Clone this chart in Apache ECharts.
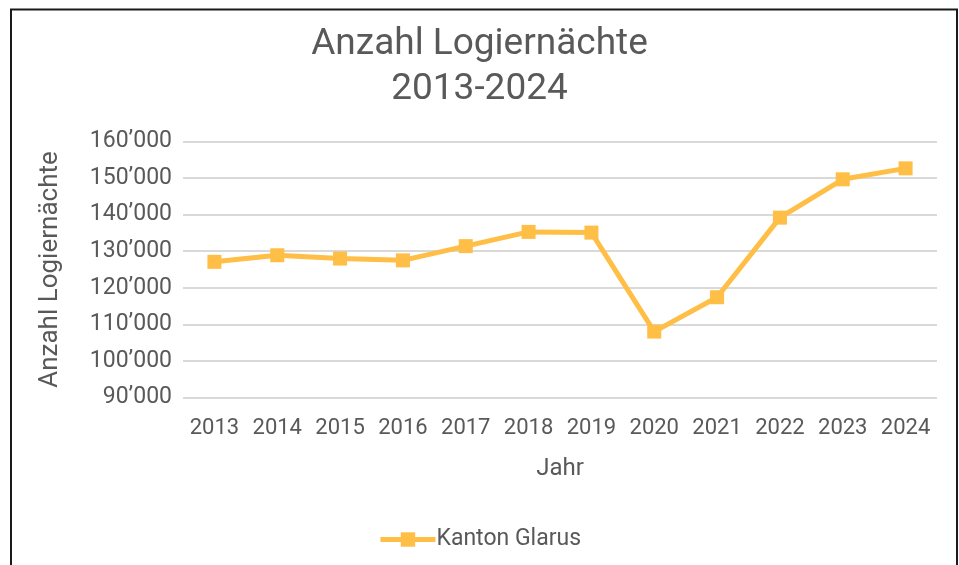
<!DOCTYPE html>
<html><head><meta charset="utf-8">
<script src="https://cdn.jsdelivr.net/npm/echarts@6/dist/echarts.min.js"></script>
<style>html,body{margin:0;padding:0;background:#fff}#c{width:959px;height:565px}</style>
</head><body><div id="c"></div>
<script>
const years = ['2013','2014','2015','2016','2017','2018','2019','2020','2021','2022','2023','2024'];
const glarus = [127100, 128900, 128000, 127500, 131400, 135300, 135100, 108000, 117400, 139200, 149700, 152700];
const seriesName = 'Kanton Glarus';
const titleText = 'Anzahl Logiernächte\n2013-2024';
const yName = 'Anzahl Logiernächte';
const xName = 'Jahr';

const chart = echarts.init(document.getElementById('c'));
const txt = '#595959';
const font = 'Roboto';
chart.setOption({
  backgroundColor: '#fff',
  animation: false,
  graphic: [{type:'rect', shape:{x:11, y:9.5, width:946, height:600}, style:{fill:'none', stroke:'#1a1a1a', lineWidth:2}}],
  title: {text: titleText, left: 'center', top: 17,
    textStyle: {fontFamily: font, fontSize: 37, fontWeight: 'normal', color: txt, lineHeight: 45}},
  legend: {bottom: 9, left: 'center', itemWidth: 55, itemHeight: 18, itemGap: 0,
    lineStyle: {width: 5},
    textStyle: {fontFamily: font, fontSize: 23, color: txt, padding: [0,0,0,-4]},
    data: [seriesName]},
  grid: {left: 183, right: 22, top: 141.7, bottom: 167.7},
  xAxis: {type: 'category', data: years, boundaryGap: true,
    name: xName, nameLocation: 'middle', nameGap: 60,
    nameTextStyle: {fontFamily: font, fontSize: 24, color: txt},
    axisLine: {show: false}, axisTick: {show: false},
    axisLabel: {fontFamily: font, fontSize: 22, color: txt, margin: 20, interval: 0}},
  yAxis: {type: 'value', min: 90000, max: 160000, interval: 10000,
    name: yName, nameLocation: 'middle', nameGap: 120,
    nameTextStyle: {fontFamily: font, fontSize: 26, color: txt},
    axisLine: {show: false}, axisTick: {show: false},
    splitLine: {lineStyle: {color: '#d9d9d9', width: 2}},
    axisLabel: {fontFamily: font, fontSize: 23, color: txt, margin: 11,
      formatter: v => String(v).replace(/(\d)(?=(\d{3})+$)/g, '$1\u2019')}},
  series: [{name: seriesName, type: 'line', data: glarus,
    symbol: 'rect', symbolSize: 14,
    lineStyle: {color: '#FFBE46', width: 5},
    itemStyle: {color: '#FFBE46'}}]
});
</script></body></html>
